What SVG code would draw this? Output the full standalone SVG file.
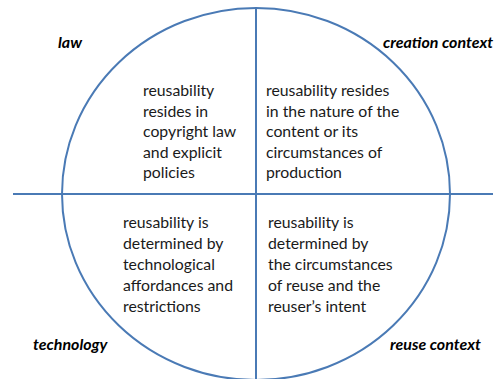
<svg xmlns="http://www.w3.org/2000/svg" width="500" height="379" viewBox="0 0 500 379">
  <style>
    .axis { stroke: #4a7ab5; stroke-width: 2; fill: none; }
    .body { font-family: Lato, "Open Sans", "Liberation Sans", sans-serif; font-size: 15.8px; fill: #1a1a1a; }
    .label { font-family: Lato, "Open Sans", "Liberation Sans", sans-serif; font-size: 16px; font-weight: bold; font-style: italic; fill: #000; }
  </style>
  <rect width="500" height="379" fill="#ffffff"/>

  <!-- ellipse and the two axes that split it into quadrants -->
  <g id="connectors">
    <ellipse class="axis" cx="256" cy="194" rx="194" ry="186"/>
    <line class="axis" x1="13" y1="194" x2="493" y2="194"/>
    <line class="axis" x1="256" y1="8" x2="256" y2="379"/>
  </g>

  <g id="law">
    <text class="label" x="58" y="48">law</text>
    <text class="body">
      <tspan x="143" y="96">reusability</tspan>
      <tspan x="143" y="116.5">resides in</tspan>
      <tspan x="143" y="137">copyright law</tspan>
      <tspan x="143" y="157.5">and explicit</tspan>
      <tspan x="143" y="178">policies</tspan>
    </text>
  </g>

  <g id="creation-context">
    <text class="label" x="383" y="48">creation context</text>
    <text class="body">
      <tspan x="266" y="96">reusability resides</tspan>
      <tspan x="266" y="116.5">in the nature of the</tspan>
      <tspan x="266" y="137">content or its</tspan>
      <tspan x="266" y="157.5">circumstances of</tspan>
      <tspan x="266" y="178">production</tspan>
    </text>
  </g>

  <g id="technology">
    <text class="label" x="33" y="350">technology</text>
    <text class="body">
      <tspan x="123" y="228">reusability is</tspan>
      <tspan x="123" y="249">determined by</tspan>
      <tspan x="123" y="270">technological</tspan>
      <tspan x="123" y="291">affordances and</tspan>
      <tspan x="123" y="312">restrictions</tspan>
    </text>
  </g>

  <g id="reuse-context">
    <text class="label" x="390" y="350">reuse context</text>
    <text class="body">
      <tspan x="268" y="228">reusability is</tspan>
      <tspan x="268" y="249">determined by</tspan>
      <tspan x="268" y="270">the circumstances</tspan>
      <tspan x="268" y="291">of reuse and the</tspan>
      <tspan x="268" y="312">reuser’s intent</tspan>
    </text>
  </g>
</svg>
